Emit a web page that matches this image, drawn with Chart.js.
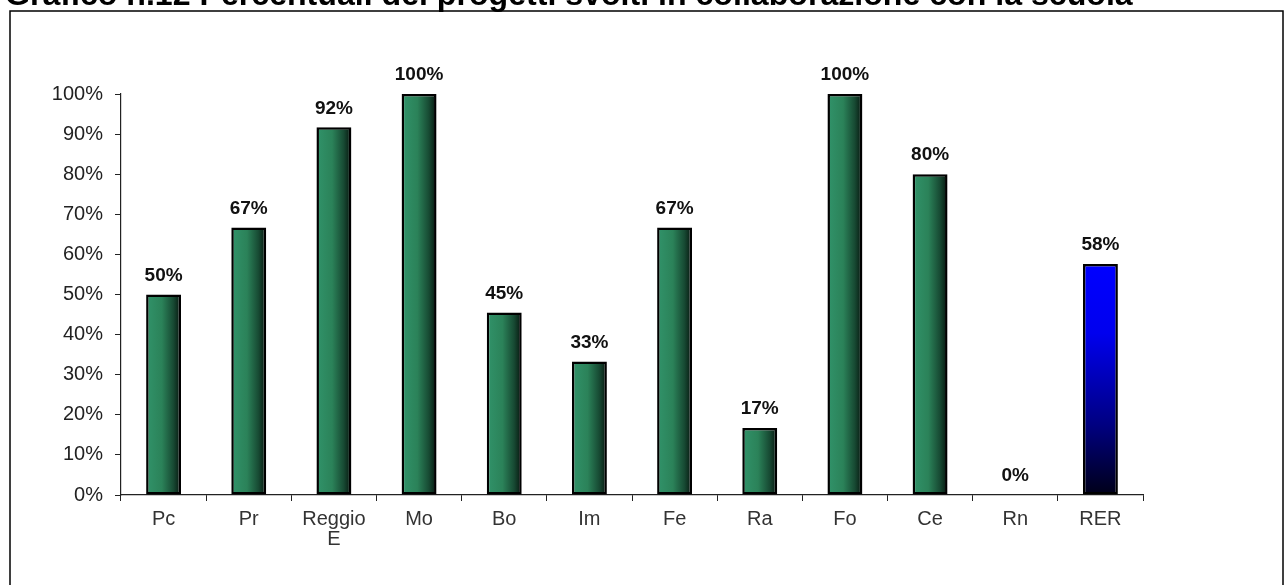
<!DOCTYPE html>
<html>
<head>
<meta charset="utf-8">
<script src="https://cdn.jsdelivr.net/npm/chart.js@4/dist/chart.umd.min.js"></script>
<style>
  html, body { margin: 0; padding: 0; background: #fff; }
  #wrap { position: relative; width: 1285px; height: 585px; }
  canvas { display: block; }
</style>
</head>
<body>
<div id="wrap"><canvas id="c" width="1285" height="585"></canvas></div>
<script>
const titleText = "Grafico n.12 Percentuali dei progetti svolti in collaborazione con la scuola";
const categories = ["Pc", "Pr", ["Reggio", "E"], "Mo", "Bo", "Im", "Fe", "Ra", "Fo", "Ce", "Rn", "RER"];
const values = [50, 66.7, 91.7, 100, 45.5, 33.3, 66.7, 16.7, 100, 80, 0, 57.6];
const valueLabels = ["50%", "67%", "92%", "100%", "45%", "33%", "67%", "17%", "100%", "80%", "0%", "58%"];
const yTicks = [0, 10, 20, 30, 40, 50, 60, 70, 80, 90, 100];

const FONT = "'Liberation Sans', Arial, sans-serif";

function barFill(ctx) {
  const chart = ctx.chart;
  const area = chart.chartArea;
  const i = ctx.dataIndex;
  if (!area || !chart.scales.x || !chart.scales.y) return '#2e8b60';
  const x = chart.scales.x.getPixelForValue(i);
  const meta = chart.getDatasetMeta(0);
  const el = meta.data[i];
  const half = el && el.width ? el.width / 2 : 17.5;
  const c = chart.ctx;
  if (i === categories.length - 1) {
    const yTop = chart.scales.y.getPixelForValue(values[i]);
    const yBot = chart.scales.y.getPixelForValue(0);
    const g = c.createLinearGradient(0, yTop, 0, yBot);
    g.addColorStop(0, '#0000ff');
    g.addColorStop(0.3, '#0000ee');
    g.addColorStop(0.7, '#000080');
    g.addColorStop(1, '#000018');
    return g;
  }
  const g = c.createLinearGradient(x - half, 0, x + half, 0);
  g.addColorStop(0, '#31936a');
  g.addColorStop(0.45, '#2b8259');
  g.addColorStop(0.78, '#174a33');
  g.addColorStop(1, '#06140d');
  return g;
}

const framePlugin = {
  id: 'frame',
  beforeDraw(chart) {
    const c = chart.ctx;
    c.save();
    c.fillStyle = '#fff';
    c.fillRect(0, 0, chart.width, chart.height);
    c.strokeStyle = '#000';
    c.lineWidth = 1.5;
    c.strokeRect(10, 11, 1273, 600);
    let size = 24;
    c.font = 'bold ' + size + 'px ' + FONT;
    const w = c.measureText(titleText).width;
    size = size * 1128 / w;
    c.font = 'bold ' + size + 'px ' + FONT;
    c.fillStyle = '#000';
    c.textBaseline = 'alphabetic';
    c.textAlign = 'left';
    c.fillText(titleText, 5, 5);
    c.restore();
  }
};

const labelPlugin = {
  id: 'valueLabels',
  afterDatasetsDraw(chart) {
    const c = chart.ctx;
    const meta = chart.getDatasetMeta(0);
    c.save();
    c.font = 'bold 19px ' + FONT;
    c.fillStyle = '#111';
    c.textAlign = 'center';
    c.textBaseline = 'middle';
    meta.data.forEach((el, i) => {
      c.fillText(valueLabels[i], el.x, el.y - 19);
    });
    c.restore();
  }
};

new Chart(document.getElementById('c'), {
  type: 'bar',
  data: {
    labels: categories,
    datasets: [{
      data: values,
      backgroundColor: barFill,
      borderColor: '#000',
      borderWidth: 2.5,
      borderSkipped: false,
      categoryPercentage: 1,
      barPercentage: 0.41
    }]
  },
  options: {
    responsive: false,
    animation: false,
    devicePixelRatio: 1,
    layout: { padding: { left: 0, top: 94, right: 142, bottom: 0 } },
    plugins: {
      legend: { display: false },
      tooltip: { enabled: false },
      title: { display: false }
    },
    scales: {
      x: {
        offset: true,
        grid: {
          offset: true,
          drawOnChartArea: false,
          drawTicks: true,
          tickLength: 6,
          color: '#222',
          lineWidth: 1
        },
        border: { display: true, color: '#222', width: 1.2 },
        ticks: {
          color: '#333',
          font: { family: FONT, size: 20, lineHeight: 1.0 },
          padding: 8,
          maxRotation: 0,
          autoSkip: false
        },
        afterFit(scale) { scale.height = 90; }
      },
      y: {
        min: 0,
        max: 100,
        afterBuildTicks(scale) { scale.ticks = yTicks.map(v => ({ value: v })); },
        grid: {
          drawOnChartArea: false,
          drawTicks: true,
          tickLength: 6,
          color: '#222',
          lineWidth: 1
        },
        border: { display: true, color: '#222', width: 1.2 },
        ticks: {
          color: '#222',
          font: { family: FONT, size: 20 },
          padding: 12,
          callback: v => v + '%'
        },
        afterFit(scale) { scale.width = 121; }
      }
    }
  },
  plugins: [framePlugin, labelPlugin]
});
</script>
</body>
</html>
